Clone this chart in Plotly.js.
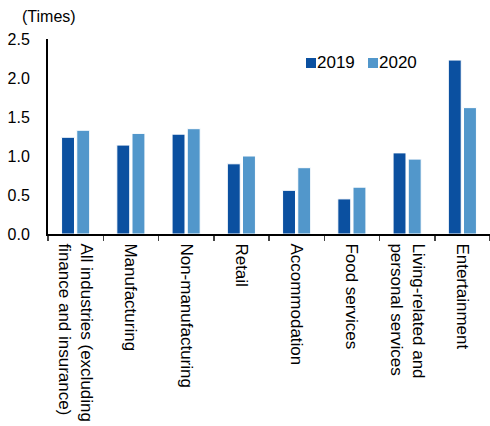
<!DOCTYPE html>
<html>
<head>
<meta charset="utf-8">
<script src="https://cdn.plot.ly/plotly-3.0.1.min.js"></script>
<style>html,body{margin:0;padding:0;background:#fff;}#chart{width:490px;height:426px;}</style>
</head>
<body>
<div id="chart"></div>
<script>
const categories = [
  "All industries (excluding<br>finance and insurance)",
  "Manufacturing",
  "Non-manufacturing",
  "Retail",
  "Accommodation",
  "Food services",
  "Living-related and<br>personal services",
  "Entertainment"
];
const seriesNames = ["2019", "2020"];
const values2019 = [1.24, 1.14, 1.28, 0.90, 0.56, 0.45, 1.04, 2.23];
const values2020 = [1.33, 1.29, 1.35, 1.00, 0.85, 0.60, 0.96, 1.62];
const yTicks = [0, 0.5, 1.0, 1.5, 2.0, 2.5];
const colors = ["#0b50a0", "#5297cb"];

const fam = "Liberation Sans, Arial, sans-serif";

const traces = [
  {type: "bar", name: seriesNames[0], x: categories, y: values2019,
   marker: {color: colors[0], line: {color: "#ffffff", width: 1}}},
  {type: "bar", name: seriesNames[1], x: categories, y: values2020,
   marker: {color: colors[1], line: {color: "#ffffff", width: 1}}}
];

// compact legend drawn as annotations (swatch + label)
const legendX = [0.595, 0.735];
const legendY = 0.877;
const legendAnn = [];
seriesNames.forEach((n, i) => {
  legendAnn.push({text: " ", xref: "paper", yref: "paper", x: legendX[i], y: legendY,
    xanchor: "center", yanchor: "middle", showarrow: false, width: 10, height: 10,
    bgcolor: colors[i], borderpad: 0, borderwidth: 0, font: {size: 8}});
  legendAnn.push({text: n, xref: "paper", yref: "paper", x: legendX[i] + 0.014, y: legendY,
    xanchor: "left", yanchor: "middle", showarrow: false, borderpad: 0, borderwidth: 0,
    font: {family: fam, size: 17, color: "#000"}});
});

const layout = {
  width: 490, height: 426,
  margin: {l: 48, r: 0, t: 39, b: 192},
  paper_bgcolor: "#fff", plot_bgcolor: "#fff",
  font: {family: fam, size: 16, color: "#000"},
  barmode: "group",
  bargap: 0.45,
  bargroupgap: 0.15,
  showlegend: false,
  xaxis: {
    type: "category", tickangle: 90, tickson: "boundaries",
    ticks: "outside", ticklen: 5, tickwidth: 1.5, tickcolor: "#444",
    showline: true, linecolor: "#000", linewidth: 2,
    showgrid: false, zeroline: false, ticklabelstandoff: 4,
    tickfont: {family: fam, size: 17, color: "#000"}
  },
  yaxis: {
    range: [0, 2.5], tickvals: yTicks, tickformat: ".1f",
    ticks: "", showline: true, linecolor: "#000", linewidth: 2,
    showgrid: false, zeroline: false, ticklabelstandoff: 13,
    tickfont: {family: fam, size: 16, color: "#000"}
  },
  annotations: [{
    text: "(Times)", xref: "paper", yref: "paper", x: -0.063, y: 1.113,
    xanchor: "left", yanchor: "middle", showarrow: false,
    font: {family: fam, size: 16, color: "#000"}
  }].concat(legendAnn)
};

Plotly.newPlot("chart", traces, layout, {displayModeBar: false, staticPlot: true});
</script>
</body>
</html>
